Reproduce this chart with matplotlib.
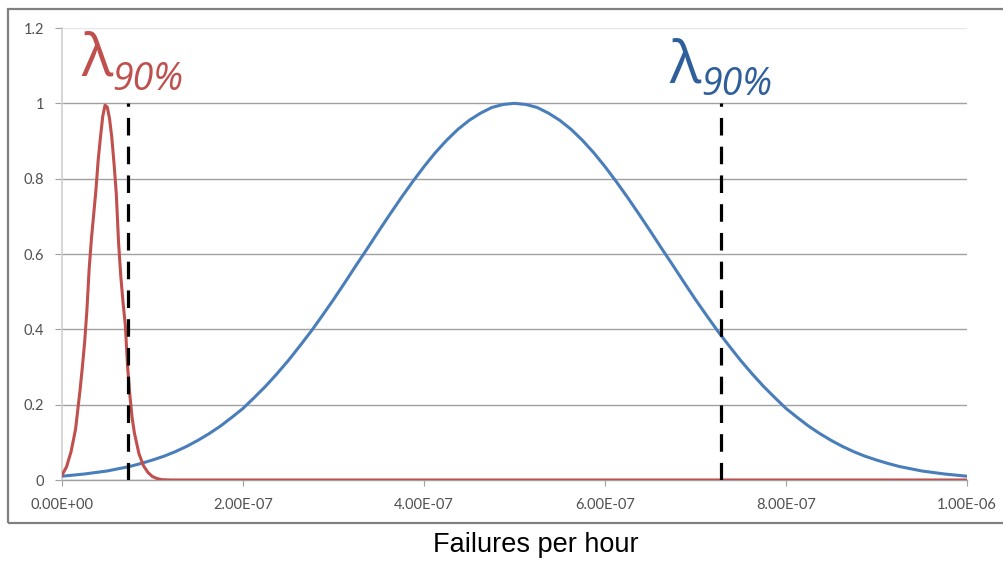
import matplotlib
matplotlib.use("Agg")
import matplotlib.pyplot as plt
from matplotlib.patches import Rectangle
import numpy as np

# ---- data (x in units of 1e-7 failures per hour) ----
blue_x = [0, 0.125, 0.25, 0.375, 0.5, 0.625, 0.75, 0.875, 1.0, 1.125, 1.25, 1.375,
          1.5, 1.625, 1.75, 1.875, 2.0, 2.125, 2.25, 2.375, 2.5, 2.625, 2.75, 2.875,
          3.0, 3.125, 3.25, 3.375, 3.5, 3.625, 3.75, 3.875, 4.0, 4.125, 4.25, 4.375,
          4.5, 4.625, 4.75, 4.875, 5.0, 5.125, 5.25, 5.375, 5.5, 5.625, 5.75, 5.875,
          6.0, 6.125, 6.25, 6.375, 6.5, 6.625, 6.75, 6.875, 7.0, 7.125, 7.25, 7.375,
          7.5, 7.625, 7.75, 7.875, 8.0, 8.125, 8.25, 8.375, 8.5, 8.625, 8.75, 8.875,
          9.0, 9.125, 9.25, 9.375, 9.5, 9.625, 9.75, 9.875, 10.0]
blue_y = [0.010, 0.013, 0.016, 0.020, 0.024, 0.030, 0.036, 0.044, 0.053, 0.063, 0.075,
          0.089, 0.105, 0.123, 0.143, 0.166, 0.190, 0.219, 0.249, 0.282, 0.317, 0.355,
          0.394, 0.436, 0.479, 0.524, 0.570, 0.615, 0.661, 0.706, 0.750, 0.792, 0.832,
          0.869, 0.902, 0.931, 0.955, 0.974, 0.989, 0.997, 1.000,
          0.997, 0.989, 0.974, 0.955, 0.931, 0.902, 0.869, 0.832, 0.792, 0.750, 0.706,
          0.661, 0.615, 0.570, 0.524, 0.479, 0.436, 0.394, 0.355, 0.317, 0.282, 0.249,
          0.219, 0.190, 0.166, 0.143, 0.123, 0.105, 0.089, 0.075, 0.063, 0.053, 0.044,
          0.036, 0.030, 0.024, 0.020, 0.016, 0.013, 0.010]

red_x = [0, 0.05, 0.1, 0.15, 0.2, 0.225, 0.25, 0.275, 0.3, 0.325, 0.35, 0.375, 0.4,
         0.425, 0.45, 0.475, 0.5, 0.525, 0.55, 0.575, 0.6, 0.625, 0.65, 0.675, 0.7,
         0.725, 0.75, 0.775, 0.8, 0.85, 0.9, 0.95, 1.0, 1.05, 1.1, 1.2, 2.0, 4.0, 6.0,
         8.0, 10.0]
red_y = [0.013, 0.035, 0.075, 0.135, 0.240, 0.300, 0.365, 0.450, 0.560, 0.640, 0.705,
         0.770, 0.850, 0.910, 0.965, 0.995, 0.990, 0.960, 0.910, 0.840, 0.760, 0.630,
         0.540, 0.470, 0.410, 0.300, 0.225, 0.165, 0.125, 0.070, 0.038, 0.020, 0.009,
         0.004, 0.001, 0.0, 0.0, 0.0, 0.0, 0.0, 0.0]

lambda90_red = 0.73   # dashed marker positions (1e-7 units)
lambda90_blue = 7.28

x_ticks = [0, 2, 4, 6, 8, 10]
x_tick_labels = ["0.00E+00", "2.00E-07", "4.00E-07", "6.00E-07", "8.00E-07", "1.00E-06"]
y_ticks = [0, 0.2, 0.4, 0.6, 0.8, 1.0, 1.2]
y_tick_labels = ["0", "0.2", "0.4", "0.6", "0.8", "1", "1.2"]

scale = 1e-7
RED = "#c0504d"
BLUE = "#4a7ebb"
RED_TXT = "#c0504d"
BLUE_TXT = "#2f5f9a"

fig = plt.figure(figsize=(10.04, 5.61), dpi=100)
ax = fig.add_axes([62/1004, 81/561, 905/1004, 452/561])

ax.plot(np.array(blue_x) * scale, blue_y, color=BLUE, lw=2.2,
        solid_capstyle="round", solid_joinstyle="round", zorder=3)
ax.plot(np.array(red_x) * scale, red_y, color=RED, lw=2.2,
        solid_capstyle="round", solid_joinstyle="round", zorder=4)

for xv in (lambda90_red, lambda90_blue):
    ax.plot([xv * scale, xv * scale], [0, 1.0], color="black", lw=2.3,
            dashes=(5.5, 3.5), zorder=5)

ax.set_xlim(0, 10 * scale)
ax.set_ylim(0, 1.2)
ax.set_xticks(np.array(x_ticks) * scale)
ax.set_xticklabels(x_tick_labels)
ax.set_yticks(y_ticks)
ax.set_yticklabels(y_tick_labels)

ax.grid(axis="y", color="#a0a0a0", lw=1.0, zorder=0)
ax.get_ygridlines()[-1].set_color("#e6e6e6")
ax.set_axisbelow(True)
for s in ("top", "right"):
    ax.spines[s].set_visible(False)
ax.spines["left"].set_color("#cfcfcf")
ax.spines["left"].set_linewidth(1.2)
ax.spines["bottom"].set_color("#a0a0a0")
ax.spines["bottom"].set_linewidth(1.0)

ax.tick_params(axis="x", length=4, color="#a0a0a0", pad=9, labelsize=10.5,
               labelcolor="#505050")
ax.tick_params(axis="y", length=5, color="#a0a0a0", pad=8, labelsize=10.5,
               labelcolor="#505050")
for lbl in ax.get_xticklabels() + ax.get_yticklabels():
    lbl.set_family(["Lato", "DejaVu Sans"])

# lambda annotations
fig.text(81/1004, 1 - 75/561, "λ", color=RED_TXT, fontsize=42,
         family=["Open Sans", "DejaVu Sans"], ha="left", va="baseline")
fig.text(112/1004, 1 - 90/561, "90%", color=RED_TXT, fontsize=27, style="italic",
         family=["Open Sans", "DejaVu Sans"], ha="left", va="baseline")
fig.text(669/1004, 1 - 82/561, "λ", color=BLUE_TXT, fontsize=42,
         family=["Open Sans", "DejaVu Sans"], ha="left", va="baseline")
fig.text(701/1004, 1 - 95/561, "90%", color=BLUE_TXT, fontsize=27, style="italic",
         family=["Open Sans", "DejaVu Sans"], ha="left", va="baseline")

fig.text(536/1004, 1 - 545/561, "Failures per hour", fontsize=19.5, color="black",
         family=["Liberation Sans", "DejaVu Sans"], ha="center", va="center")

# outer chart border
fig.patches.append(Rectangle((8/1004, 1 - 523/561), 1000/1004, 514/561,
                             transform=fig.transFigure, fill=False,
                             edgecolor="#808080", lw=1.6))

fig.savefig("out.png", dpi=100)
